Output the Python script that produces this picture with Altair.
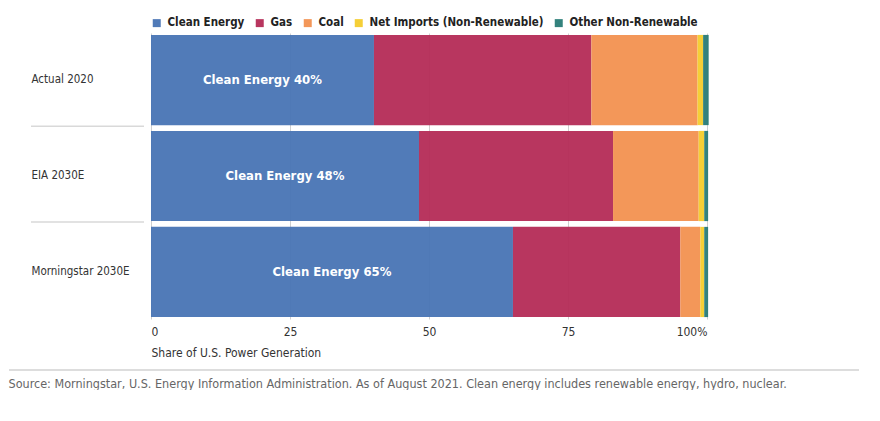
import altair as alt
import pandas as pd

categories = ["Actual 2020", "EIA 2030E", "Morningstar 2030E"]
series = ["Clean Energy", "Gas", "Coal", "Net Imports (Non-Renewable)", "Other Non-Renewable"]
colors = ["#4a76b5", "#b52e58", "#f29352", "#f5cd2f", "#2b7d78"]
clean = [40.1, 48.2, 65.1]
gas = [39.1, 34.9, 30.1]
coal = [19.1, 15.4, 3.6]
imports = [1.0, 1.0, 0.7]
other = [1.0, 0.7, 0.7]
bar_labels = ["Clean Energy 40%", "Clean Energy 48%", "Clean Energy 65%"]
x_ticks = [0, 25, 50, 75, 100]

FONT = "Liberation Sans Narrow, DejaVu Sans Condensed, Roboto, sans-serif"
W, H = 556, 286

rows = []
for s_i, (s, vals) in enumerate(zip(series, [clean, gas, coal, imports, other])):
    for c, v in zip(categories, vals):
        rows.append({"cat": c, "series": s, "value": v, "order": s_i})
df = pd.DataFrame(rows)
lab = pd.DataFrame({"cat": categories, "value": clean, "label": bar_labels})
sep = pd.DataFrame({"cat": categories[:2]})
foot = pd.DataFrame({"a": [0]})

yscale = alt.Scale(domain=categories, paddingInner=0.06, paddingOuter=0.02)
yaxis = alt.Axis(title=None, ticks=False, domain=False, labelAlign="left", labelPadding=120,
                 labelFont=FONT, labelFontSize=11.5, labelColor="#333333")
Y = alt.Y("cat:N", scale=yscale, axis=yaxis, sort=categories)

bars = alt.Chart(df).mark_bar(opacity=0.96).encode(
    x=alt.X("value:Q", stack="zero",
            scale=alt.Scale(domain=[0, 100], nice=False),
            axis=alt.Axis(values=x_ticks, title="Share of U.S. Power Generation",
                          labelExpr="datum.value == 100 ? '100%' : datum.label",
                          labelFlush=True, ticks=False, domain=False, grid=True,
                          gridColor="#cfcfcf", labelFont=FONT, labelFontSize=12,
                          labelColor="#333333", labelPadding=7,
                          titleFont=FONT, titleFontSize=12, titleFontWeight="normal",
                          titleColor="#333333", titleAnchor="start", titlePadding=10)),
    y=Y,
    color=alt.Color("series:N", scale=alt.Scale(domain=series, range=colors),
                    legend=alt.Legend(title=None, orient="top", direction="horizontal",
                                      symbolType="square", symbolSize=64, symbolStrokeWidth=0,
                                      labelFont=FONT, labelFontSize=11.5, labelFontWeight="bold",
                                      labelColor="#222222", columnPadding=9, labelOffset=5,
                                      labelLimit=400, offset=4, padding=0)),
    order=alt.Order("order:Q"),
)

text = alt.Chart(lab).transform_calculate(mid="datum.value / 2").mark_text(
    color="white", font=FONT, fontSize=13, fontWeight="bold", baseline="middle"
).encode(x=alt.X("mid:Q"), y=Y, text="label:N")

seps = alt.Chart(sep).mark_rule(color="#d9d9d9", strokeWidth=1.5, yOffset=1).encode(
    y=alt.Y("cat:N", scale=yscale, axis=yaxis, sort=categories, bandPosition=1),
    x=alt.value(-120), x2=alt.value(-7),
)

footer_rule = alt.Chart(foot).mark_rule(color="#bbbbbb", strokeWidth=1).encode(
    y=alt.value(H + 51), x=alt.value(-142), x2=alt.value(W + 152)
)

chart = alt.layer(bars, text, seps, footer_rule).properties(
    width=W, height=H,
    padding={"left": 0, "top": 9, "right": 0, "bottom": 0},
    title=alt.TitleParams(
        "Source: Morningstar, U.S. Energy Information Administration. As of August 2021. Clean energy includes renewable energy, hydro, nuclear.",
        orient="bottom", anchor="start", frame="bounds", font=FONT, fontSize=12.5,
        fontWeight="normal", color="#666666", offset=7),
).configure_view(stroke=None)

chart.save("out.html", embed_options={"renderer": "svg", "actions": False})
